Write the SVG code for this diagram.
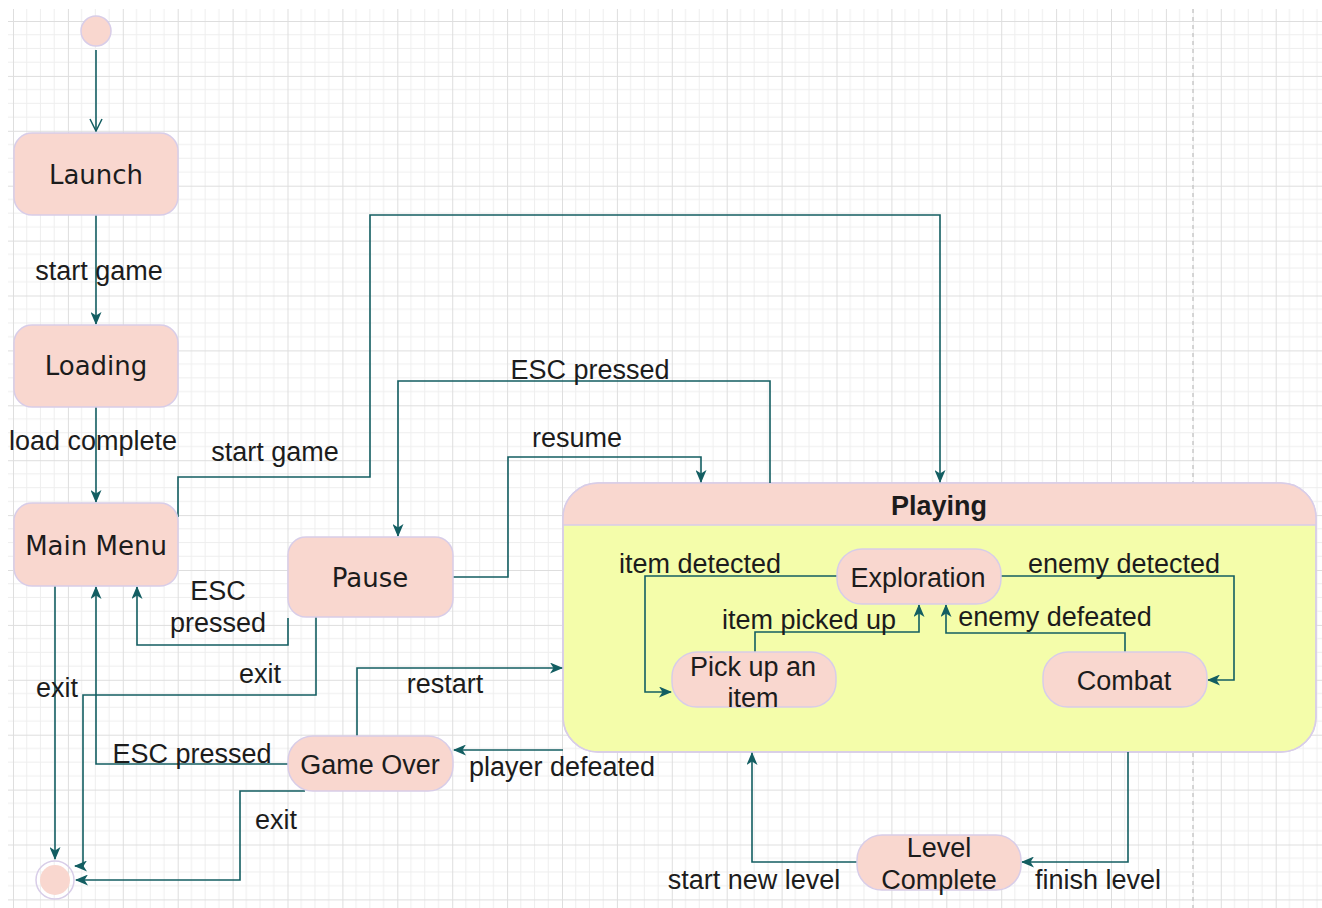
<svg xmlns="http://www.w3.org/2000/svg" width="1322" height="908" viewBox="0 0 1322 908">
<defs>
<pattern id="grid" patternUnits="userSpaceOnUse" x="13" y="21" width="54.9" height="54.9">
<path d="M13.725,0V54.9M27.45,0V54.9M41.175,0V54.9M0,13.725H54.9M0,27.45H54.9M0,41.175H54.9" stroke="#eeeeee" stroke-width="1" fill="none"/>
<path d="M0.5,0V54.9M0,0.5H54.9" stroke="#dedede" stroke-width="1" fill="none"/>
</pattern>
<marker id="arr" viewBox="0 0 13 11" refX="12" refY="5.5" markerWidth="13" markerHeight="11" markerUnits="userSpaceOnUse" orient="auto">
<path d="M0,0 L13,5.5 L0,11 L3.5,5.5 Z" fill="#135e62"/>
</marker>
<marker id="open" viewBox="0 0 14 14" refX="13" refY="7" markerWidth="14" markerHeight="14" markerUnits="userSpaceOnUse" orient="auto">
<path d="M1,1 L13,7 L1,13" fill="none" stroke="#135e62" stroke-width="1.5"/>
</marker>
</defs>
<style>
.node{fill:#f9d7cf;stroke:#d8cde8;stroke-width:1.5}
.t{font-family:"Liberation Sans",Arial,sans-serif;font-size:27px;fill:#1c1c1c;text-anchor:middle;dominant-baseline:central}
.d{font-family:"DejaVu Sans",Verdana,sans-serif;font-size:26px;fill:#1c1c1c;text-anchor:middle;dominant-baseline:central}
.e{fill:none;stroke:#135e62;stroke-width:1.6;marker-end:url(#arr)}
</style>
<rect width="1322" height="908" fill="#ffffff"/>
<rect x="8" y="9" width="1314" height="899" fill="url(#grid)"/>
<line x1="1193" y1="9" x2="1193" y2="908" stroke="#c9c9c9" stroke-width="1.5" stroke-dasharray="4 4"/>

<g id="playing">
<path d="M598,483 H1281 A35,35 0 0 1 1316,518 V717 A35,35 0 0 1 1281,752 H598 A35,35 0 0 1 563,717 V518 A35,35 0 0 1 598,483 Z" fill="#f4fdaa" stroke="#d8cde8" stroke-width="1.5"/>
<path d="M598,483 H1281 A35,35 0 0 1 1316,518 V525 H563 V518 A35,35 0 0 1 598,483 Z" fill="#f9d7cf"/>
<line x1="563" y1="525" x2="1316" y2="525" stroke="#d8cde8" stroke-width="1.5"/>
<path d="M598,483 H1281 A35,35 0 0 1 1316,518 V717 A35,35 0 0 1 1281,752 H598 A35,35 0 0 1 563,717 V518 A35,35 0 0 1 598,483 Z" fill="none" stroke="#d8cde8" stroke-width="1.5"/>
<text class="t" x="939" y="506" font-weight="bold">Playing</text>
</g>

<g id="connectors">
<path d="M96,50 V131" fill="none" stroke="#135e62" stroke-width="1.6" marker-end="url(#open)"/>
<path class="e" d="M96,215 V324"/>
<path class="e" d="M96,407 V502"/>
<path class="e" d="M178,517 V477 H370 V215 H940 V482"/>
<path class="e" d="M770,483 V381 H398 V536"/>
<path class="e" d="M453,577 H508 V457 H701 V482"/>
<path class="e" d="M288,618 V645 H137 V587"/>
<path class="e" d="M316,617 V695 H83 V866 H75"/>
<path class="e" d="M55,586 V859"/>
<path class="e" d="M288,764 H96 V587"/>
<path class="e" d="M305,791 H240 V880 H76"/>
<path class="e" d="M357,736 V668 H562"/>
<path class="e" d="M563,750 H454"/>
<path class="e" d="M837,576 H645 V692 H671"/>
<path class="e" d="M755,652 V632 H919 V605"/>
<path class="e" d="M1001,576 H1234 V680 H1208"/>
<path class="e" d="M1125,652 V633 H946 V605"/>
<path class="e" d="M1128,752 V862 H1022"/>
<path class="e" d="M857,862 H752 V753"/>
<text class="t" x="99" y="271">start game</text>
<text class="t" x="93" y="441">load complete</text>
<text class="t" x="275" y="452">start game</text>
<text class="t" x="590" y="370">ESC pressed</text>
<text class="t" x="577" y="438">resume</text>
<text class="t" x="218" y="591">ESC</text>
<text class="t" x="218" y="623">pressed</text>
<text class="t" x="260" y="674">exit</text>
<text class="t" x="57" y="688">exit</text>
<text class="t" x="445" y="684">restart</text>
<text class="t" x="192" y="754">ESC pressed</text>
<text class="t" x="562" y="767">player defeated</text>
<text class="t" x="276" y="820">exit</text>
<text class="t" x="700" y="564">item detected</text>
<text class="t" x="809" y="620">item picked up</text>
<text class="t" x="1124" y="564">enemy detected</text>
<text class="t" x="1055" y="617">enemy defeated</text>
<text class="t" x="754" y="880">start new level</text>
<text class="t" x="1098" y="880">finish level</text>
</g>

<g id="initial"><circle class="node" cx="96" cy="31" r="15"/></g>
<g id="launch"><rect class="node" x="14" y="133" width="164" height="82" rx="18"/><text class="d" x="96" y="175">Launch</text></g>
<g id="loading"><rect class="node" x="14" y="325" width="164" height="82" rx="18"/><text class="d" x="96" y="366">Loading</text></g>
<g id="mainmenu"><rect class="node" x="14" y="503" width="164" height="83" rx="18"/><text class="d" x="96" y="546" font-size="27">Main Menu</text></g>
<g id="pause"><rect class="node" x="288" y="537" width="165" height="80" rx="18"/><text class="d" x="370" y="578" font-size="25">Pause</text></g>
<g id="gameover"><rect class="node" x="288" y="736" width="165" height="55" rx="25"/><text class="t" x="370" y="765">Game Over</text></g>
<g id="exploration"><rect class="node" x="837" y="549" width="164" height="55" rx="25"/><text class="t" x="918" y="578">Exploration</text></g>
<g id="pickup"><rect class="node" x="672" y="652" width="164" height="55" rx="25"/><text class="t" x="753" y="667">Pick up an</text><text class="t" x="753" y="698">item</text></g>
<g id="combat"><rect class="node" x="1043" y="652" width="164" height="55" rx="25"/><text class="t" x="1124" y="681">Combat</text></g>
<g id="levelcomplete"><rect class="node" x="857" y="835" width="164" height="55" rx="25"/><text class="t" x="939" y="848">Level</text><text class="t" x="939" y="880">Complete</text></g>
<g id="final"><circle cx="55" cy="880" r="19" fill="none" stroke="#d8cde8" stroke-width="1.5"/><circle cx="55" cy="880" r="15" fill="#f9d7cf"/></g>
</svg>
